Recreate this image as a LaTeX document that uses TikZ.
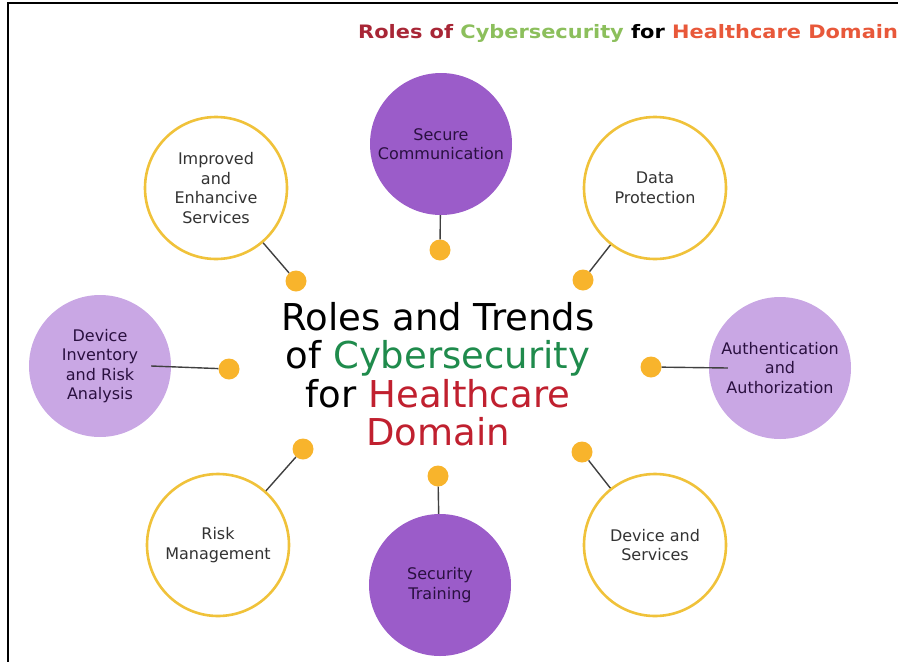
\documentclass[tikz,border=0pt]{standalone}
\usepackage{fontspec}
\setmainfont{DejaVu Sans}
\usepackage{tikz}

\definecolor{deeppurple}{HTML}{9B5CC9}
\definecolor{palepurple}{HTML}{C9A7E4}
\definecolor{ringgold}{HTML}{F0C23A}
\definecolor{dotorange}{HTML}{F8B42C}
\definecolor{inkpurple}{HTML}{2A1040}
\definecolor{titlered}{HTML}{A82636}
\definecolor{titlegreen}{HTML}{8CBF5C}
\definecolor{titleorange}{HTML}{E8583A}
\definecolor{cybergreen}{HTML}{1F8B4C}
\definecolor{healthred}{HTML}{C0202F}

\begin{document}
\begin{tikzpicture}[x=1pt,y=-1pt,
    role/.style={circle, minimum size=142pt, inner sep=0pt, align=center,
      font=\fontsize{16}{19.5}\selectfont},
    ring/.style={role, draw=ringgold, line width=2.6pt, fill=white, text=black!80},
    darkrole/.style={role, fill=deeppurple, text=inkpurple},
    lightrole/.style={role, fill=palepurple, text=inkpurple},
    dot/.style={circle, fill=dotorange, minimum size=21pt, inner sep=0pt},
    link/.style={draw=black!75, line width=1.4pt}]
\useasboundingbox (0,0) rectangle (898,662);
\draw[line width=2pt] (8,662) -- (8,3) -- (898,3);

\node at (358,38) [anchor=base west, inner sep=0pt, font=\bfseries\fontsize{18.5}{18.5}\selectfont] (title)
  {\scalebox{1.13}[1]{\textcolor{titlered}{Roles of} \textcolor{titlegreen}{Cybersecurity} for \textcolor{titleorange}{Healthcare Domain}}};

\node at (438,374) [align=center, font=\fontsize{37}{38.5}\selectfont] (hub)
  {Roles and Trends\\ of \textcolor{cybergreen}{Cybersecurity}\\ for \textcolor{healthred}{Healthcare}\\ \textcolor{healthred}{Domain}};

\node at (441,144) [darkrole] (comm) {Secure\\Communication};
\node at (655,188) [ring] (data) {Data\\Protection};
\node at (216,188) [ring] (serv) {Improved\\and\\Enhancive\\Services};
\node at (100,366) [lightrole] (inv) {Device\\Inventory\\and Risk\\Analysis};
\node at (780,368) [lightrole] (auth) {Authentication\\and\\Authorization};
\node at (218,545) [ring] (risk) {Risk\\Management};
\node at (440,585) [darkrole] (train) {Security\\Training};
\node at (655,545) [ring] (dev) {Device and\\Services};

\node at (440,250) [dot] (d-comm) {};
\node at (583,280) [dot] (d-data) {};
\node at (296,281) [dot] (d-serv) {};
\node at (229,369) [dot] (d-inv) {};
\node at (651,367) [dot] (d-auth) {};
\node at (303,449) [dot] (d-risk) {};
\node at (438,476) [dot] (d-train) {};
\node at (582,452) [dot] (d-dev) {};

\draw[link] (comm) -- (d-comm);
\draw[link] (data) -- (d-data);
\draw[link] (serv) -- (d-serv);
\draw[link] ([xshift=-20pt]inv.east) -- (d-inv);
\draw[link] ([xshift=19pt]auth.west) -- (d-auth);
\draw[link] (risk) -- (d-risk);
\draw[link] (train) -- (d-train);
\draw[link] (dev) -- (d-dev);
\end{tikzpicture}
\end{document}
